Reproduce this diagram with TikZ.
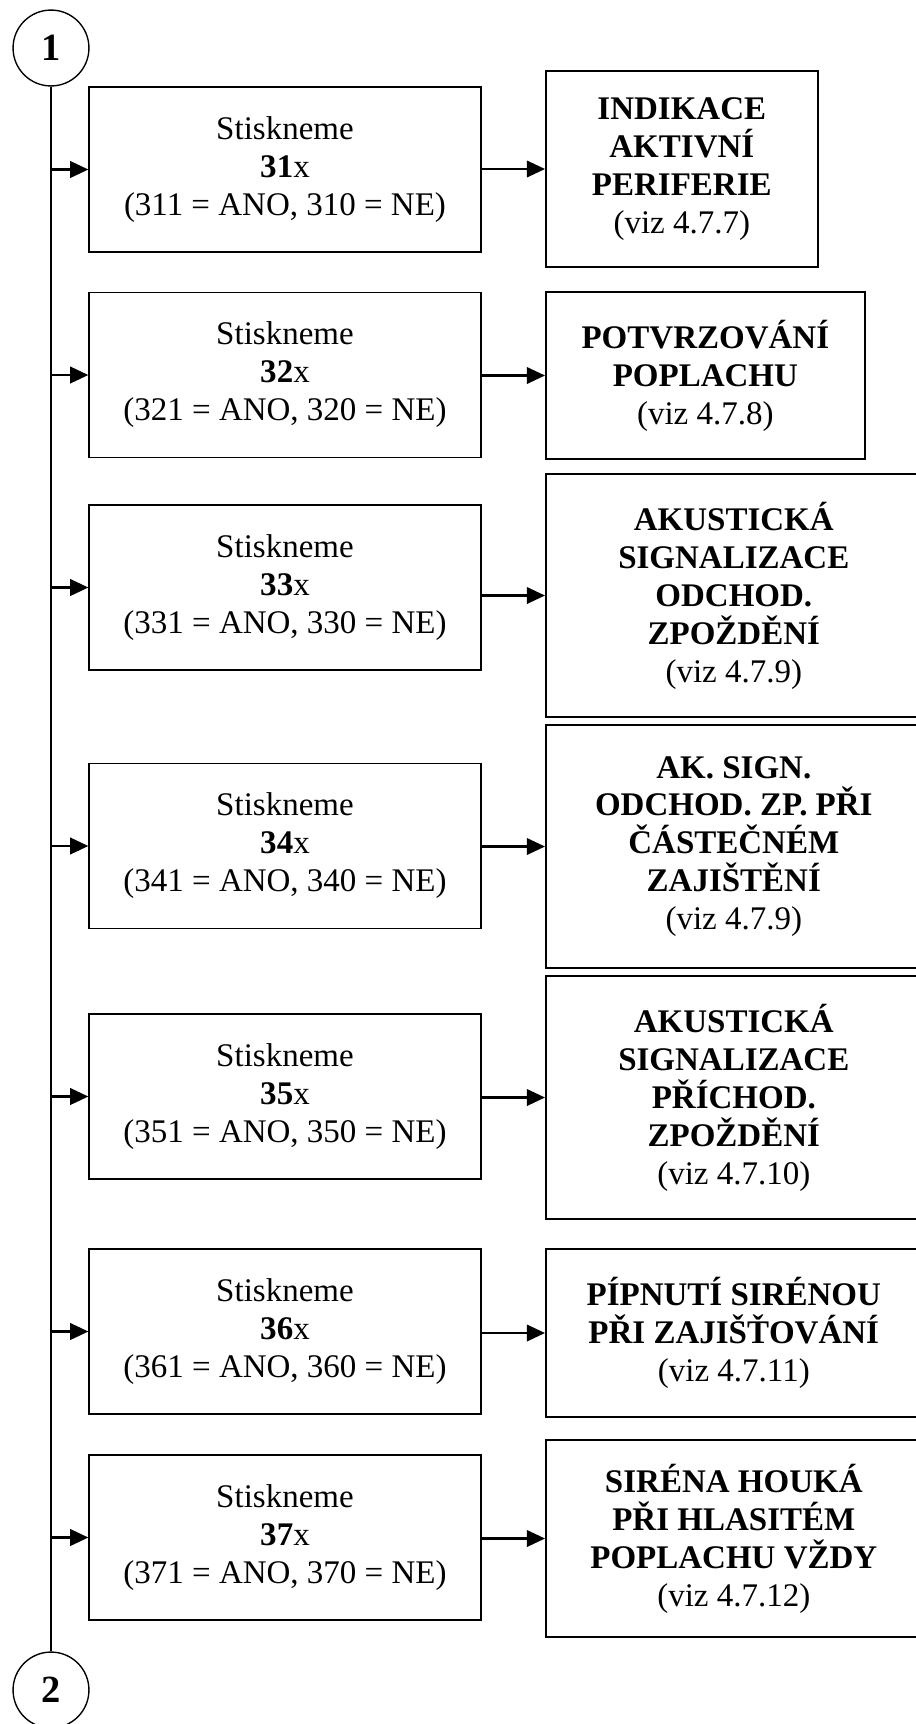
\documentclass[tikz,border=0pt]{standalone}
\usepackage{fontspec}
\setmainfont{Liberation Serif}
\usetikzlibrary{arrows.meta}

\begin{document}
\begin{tikzpicture}[
            x=0.3636pt, y=-0.3636pt,
            keybox/.style={rectangle, draw, line width=0.5pt, minimum width=142.5pt, minimum height=60pt, inner sep=0pt, align=center, font=\fontsize{12}{13.8}\selectfont},
            infobox/.style={rectangle, draw, line width=0.6pt, anchor=west, inner sep=0pt, align=center, font=\fontsize{12}{13.8}\selectfont\bfseries},
            conn/.style={circle, draw, line width=0.5pt, minimum size=27.6pt, inner sep=0pt, font=\fontsize{14}{16}\selectfont\bfseries},
            arrow/.style={-{Triangle[length=6.6pt, width=6pt]}, line width=0.8pt},
            trunk/.style={line width=0.5pt}
        ]
            \useasboundingbox (0,0) rectangle (916,1724);
            \clip (0,0) rectangle (916,1724);

            % Connectors (top / bottom)
            \node[conn] (c1) at (51,48) {1};
            \node[conn] (c2) at (51,1690) {2};
            \draw[trunk] (c1) -- (c2);

            % Key presses (left column)
            \node[keybox] (k31) at (285,169.5) {Stiskneme\\\textbf{31}x\\(311 = ANO, 310 = NE)};
            \node[keybox] (k32) at (285,375) {Stiskneme\\\textbf{32}x\\(321 = ANO, 320 = NE)};
            \node[keybox] (k33) at (285,587.5) {Stiskneme\\\textbf{33}x\\(331 = ANO, 330 = NE)};
            \node[keybox] (k34) at (285,846) {Stiskneme\\\textbf{34}x\\(341 = ANO, 340 = NE)};
            \node[keybox] (k35) at (285,1096.5) {Stiskneme\\\textbf{35}x\\(351 = ANO, 350 = NE)};
            \node[keybox] (k36) at (285,1331.5) {Stiskneme\\\textbf{36}x\\(361 = ANO, 360 = NE)};
            \node[keybox] (k37) at (285,1537.5) {Stiskneme\\\textbf{37}x\\(371 = ANO, 370 = NE)};

            % Functions (right column)
            \node[infobox, minimum width=98.9pt, minimum height=71.3pt] (f31) at (545,169) {INDIKACE\\AKTIVNÍ\\PERIFERIE\\\textmd{(viz 4.7.7)}};
            \node[infobox, minimum width=116pt, minimum height=60.7pt] (f32) at (545,375.5) {POTVRZOVÁNÍ\\POPLACHU\\\textmd{(viz 4.7.8)}};
            \node[infobox, minimum width=136.7pt, minimum height=88.4pt] (f33) at (545,595.5) {AKUSTICKÁ\\SIGNALIZACE\\ODCHOD.\\ZPOŽDĚNÍ\\\textmd{(viz 4.7.9)}};
            \node[infobox, minimum width=136.7pt, minimum height=88.4pt] (f34) at (545,846.5) {AK. SIGN.\\ODCHOD. ZP. PŘI\\ČÁSTEČNÉM\\ZAJIŠTĚNÍ\\\textmd{(viz 4.7.9)}};
            \node[infobox, minimum width=136.7pt, minimum height=88.4pt] (f35) at (545,1097.5) {AKUSTICKÁ\\SIGNALIZACE\\PŘÍCHOD.\\ZPOŽDĚNÍ\\\textmd{(viz 4.7.10)}};
            \node[infobox, minimum width=136.7pt, minimum height=61pt] (f36) at (545,1333) {PÍPNUTÍ SIRÉNOU\\PŘI ZAJIŠŤOVÁNÍ\\\textmd{(viz 4.7.11)}};
            \node[infobox, minimum width=136.7pt, minimum height=71.6pt] (f37) at (545,1538.5) {SIRÉNA HOUKÁ\\PŘI HLASITÉM\\POPLACHU VŽDY\\\textmd{(viz 4.7.12)}};

            % Branches from trunk
            \foreach \k in {31,32,33,34,35,36,37}
                \draw[arrow] (c1 |- k\k.west) -- (k\k.west);

            % Key press to function
            \foreach \k in {31,32,33,34,35,36,37}
                \draw[arrow] (k\k.east |- f\k.west) -- (f\k.west);
        \end{tikzpicture}
\end{document}
